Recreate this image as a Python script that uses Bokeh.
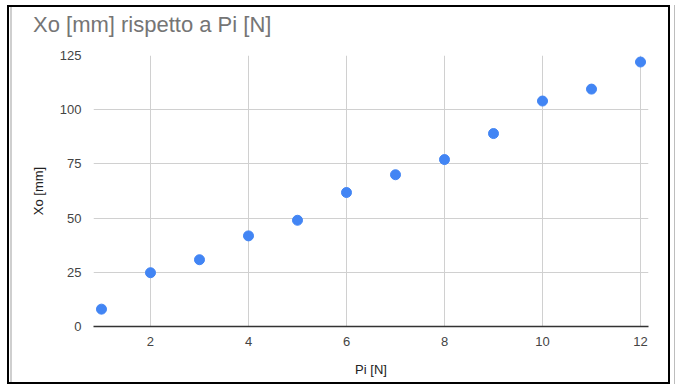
from bokeh.plotting import figure
from bokeh.models import Range1d, FixedTicker, InlineStyleSheet, Div
from bokeh.layouts import column
from bokeh.embed import file_html
from bokeh.resources import INLINE

# Data
pi_n = [1, 2, 3, 4, 5, 6, 7, 8, 9, 10, 11, 12]
xo_mm = [8.0, 24.8, 30.8, 41.8, 49.0, 61.8, 70.0, 77.0, 89.0, 104.0, 109.5, 122.0]

x_ticks = [2, 4, 6, 8, 10, 12]
y_ticks = [0, 25, 50, 75, 100, 125]

title_text = "Xo [mm] rispetto a Pi [N]"
x_label = "Pi [N]"
y_label = "Xo [mm]"

FONT = "Liberation Sans"

title_div = Div(text=title_text, width=659, height=30, margin=(0, 0, 0, 0),
                styles={"font-family": FONT, "font-size": "22px", "color": "#757575",
                        "line-height": "24px", "padding-top": "6px", "padding-left": "24px",
                        "box-sizing": "border-box", "white-space": "nowrap"})

p = figure(width=659, height=345, output_backend="svg", toolbar_location=None,
           x_range=Range1d(0.837, 12.163), y_range=Range1d(0, 125),
           min_border_left=84, min_border_right=20, min_border_top=18, min_border_bottom=56,
           margin=(0, 0, 0, 0))

p.border_fill_color = None
p.background_fill_color = "white"
p.outline_line_color = None

p.scatter(pi_n, xo_mm, size=10, color="#4285F4", line_color="#4285F4")

p.xaxis.ticker = FixedTicker(ticks=x_ticks)
p.yaxis.ticker = FixedTicker(ticks=y_ticks)
p.xgrid.ticker = FixedTicker(ticks=x_ticks)
p.ygrid.ticker = FixedTicker(ticks=y_ticks)

p.grid.grid_line_color = "#d0d0d0"
p.grid.grid_line_width = 1

for ax in (p.xaxis[0], p.yaxis[0]):
    ax.major_tick_line_color = None
    ax.minor_tick_line_color = None
    ax.major_label_text_font = FONT
    ax.major_label_text_font_size = "13px"
    ax.major_label_text_color = "#444444"
    ax.axis_label_text_font = FONT
    ax.axis_label_text_font_size = "13px"
    ax.axis_label_text_font_style = "normal"
    ax.axis_label_text_color = "#222222"

p.xaxis.axis_line_color = "#333333"
p.xaxis.axis_line_width = 1.5
p.yaxis.axis_line_color = None

p.xaxis.axis_label = x_label
p.yaxis.axis_label = y_label
p.xaxis.major_label_standoff = 4
p.yaxis.major_label_standoff = 6
p.xaxis.axis_label_standoff = 13
p.yaxis.axis_label_standoff = 11

layout = column(title_div, p, spacing=0)
layout.stylesheets = [InlineStyleSheet(css=""":host {
  margin: 5px 0 0 7px;
  border: 2px solid #000;
  background: linear-gradient(to right, #fff 0px, #fff 1px, #cfcfcf 1px, #cfcfcf 3px, #fff 3px);
  box-shadow: 4px 0 0 0 #fff, 5px 0 0 0 #bdbdbd;
}""")]

open("out.html", "w").write(file_html(layout, INLINE))
